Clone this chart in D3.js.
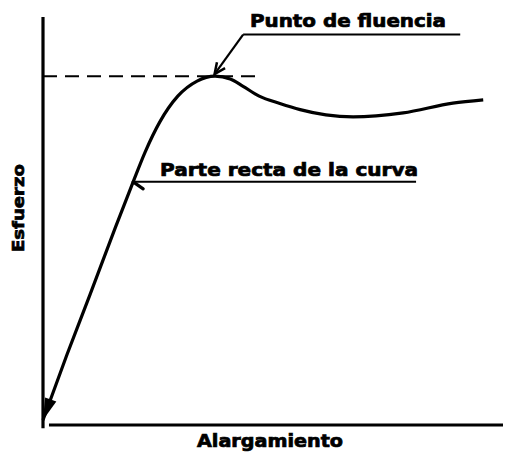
<!DOCTYPE html>
<html>
<head>
<meta charset="utf-8">
<script src="https://cdn.jsdelivr.net/npm/d3@7"></script>
<style>
  body { margin: 0; background: #fff; }
  text { font-family: "DejaVu Sans", sans-serif; font-weight: bold; fill: #000; stroke: #000; stroke-width: 0.7; }
</style>
</head>
<body>
<script>
// curva esfuerzo-alargamiento (unidades arbitrarias 0-100)
var alargamiento = [0, 5.2, 10.2, 15.7, 19.6, 22.2, 25.4, 29.3, 33.5, 37.4, 40.7, 43.5, 47.0, 51.5, 55.9, 61.5, 67.4, 78.3, 89.1, 95.7];
var esfuerzo     = [1.2, 17.2, 31.9, 48.3, 59.6, 66.9, 74.3, 80.6, 84.3, 85.5, 84.8, 83.0, 80.6, 78.8, 77.3, 76.0, 75.5, 76.5, 78.9, 79.7];

var limiteFluencia = 85.5;   // linea discontinua
var finDiscontinua = 46.7;

// anotaciones: texto, punto señalado, inicio y fin del subrayado
var notaTextos = ["Punto de fluencia", "Parte recta de la curva"];
var notaPunto  = [[37.3, 86.0], [19.6, 59.6]];
var notaLinea  = [[43.5, 95.7, 90.7], [19.6, 59.6, 81.1]]; // [x inicio, y, x fin]

var etiquetaX = "Alargamiento";
var etiquetaY = "Esfuerzo";

var W = 506, H = 456;
var svg = d3.select("body").append("svg").attr("width", W).attr("height", H);

var x = d3.scaleLinear().domain([0, 100]).range([43, 503]);
var y = d3.scaleLinear().domain([0, 100]).range([425, 17]);

// ejes (sin marcas)
svg.append("line").attr("x1", x(0)).attr("x2", x(0)).attr("y1", y(100)).attr("y2", y(-0.8))
  .attr("stroke", "#000").attr("stroke-width", 3.2);
svg.append("line").attr("x1", x(1.3)).attr("x2", x(100)).attr("y1", y(0)).attr("y2", y(0))
  .attr("stroke", "#000").attr("stroke-width", 3);

// linea discontinua del limite
svg.append("line").attr("x1", x(0)).attr("x2", x(finDiscontinua))
  .attr("y1", y(limiteFluencia)).attr("y2", y(limiteFluencia))
  .attr("stroke", "#000").attr("stroke-width", 2).attr("stroke-dasharray", "14,8");

// curva
var puntos = alargamiento.map(function (d, i) { return [d, esfuerzo[i]]; });
var linea = d3.line().x(function (d) { return x(d[0]); }).y(function (d) { return y(d[1]); })
  .curve(d3.curveMonotoneX);
svg.append("path").attr("d", linea(puntos)).attr("fill", "none")
  .attr("stroke", "#000").attr("stroke-width", 3.2).attr("stroke-linejoin", "round");

// punta de flecha
function punta(px, py, ang, largo, ancho, relleno) {
  var ux = Math.cos(ang), uy = Math.sin(ang);
  var bx = px - ux * largo, by = py - uy * largo;
  var nx = -uy * ancho, ny = ux * ancho;
  if (relleno) {
    svg.append("path").attr("d", "M" + px + "," + py + "L" + (bx + nx) + "," + (by + ny) + "L" + (bx - nx) + "," + (by - ny) + "Z")
      .attr("fill", "#000");
  } else {
    svg.append("path").attr("d", "M" + (bx + nx) + "," + (by + ny) + "L" + px + "," + py + "L" + (bx - nx) + "," + (by - ny))
      .attr("fill", "none").attr("stroke", "#000").attr("stroke-width", 2.5);
  }
}
var p0 = puntos[0], p1 = puntos[2];
punta(x(p0[0]), y(p0[1]), Math.atan2(y(p0[1]) - y(p1[1]), x(p0[0]) - x(p1[0])), 22, 6, true);

// anotaciones
notaTextos.forEach(function (t, i) {
  var l = notaLinea[i], p = notaPunto[i];
  svg.append("line").attr("x1", x(l[0])).attr("x2", x(l[2])).attr("y1", y(l[1])).attr("y2", y(l[1]))
    .attr("stroke", "#000").attr("stroke-width", 2);
  if (i === 0) {
    svg.append("line").attr("x1", x(l[0])).attr("y1", y(l[1])).attr("x2", x(p[0])).attr("y2", y(p[1]))
      .attr("stroke", "#000").attr("stroke-width", 2.2);
    punta(x(p[0]), y(p[1]), Math.atan2(y(p[1]) - y(l[1]), x(p[0]) - x(l[0])), 11, 5, false);
  } else {
    // pequeña barba bajo el subrayado
    svg.append("path").attr("d", "M" + x(p[0]) + "," + y(p[1]) + "l10,7")
      .attr("fill", "none").attr("stroke", "#000").attr("stroke-width", 3.2).attr("stroke-linecap", "round");
  }
});

svg.append("text").attr("x", 250).attr("y", 27).attr("font-size", 17)
  .attr("textLength", 196).attr("lengthAdjust", "spacingAndGlyphs").text(notaTextos[0]);
svg.append("text").attr("x", 160).attr("y", 176).attr("font-size", 17)
  .attr("textLength", 258).attr("lengthAdjust", "spacingAndGlyphs").text(notaTextos[1]);

// titulos de ejes
svg.append("text").attr("x", 197).attr("y", 447).attr("font-size", 17)
  .attr("textLength", 146).attr("lengthAdjust", "spacingAndGlyphs").text(etiquetaX);
svg.append("text").attr("transform", "translate(24,252) rotate(-90)").attr("font-size", 16)
  .attr("textLength", 88).attr("lengthAdjust", "spacingAndGlyphs").text(etiquetaY);
</script>
</body>
</html>
